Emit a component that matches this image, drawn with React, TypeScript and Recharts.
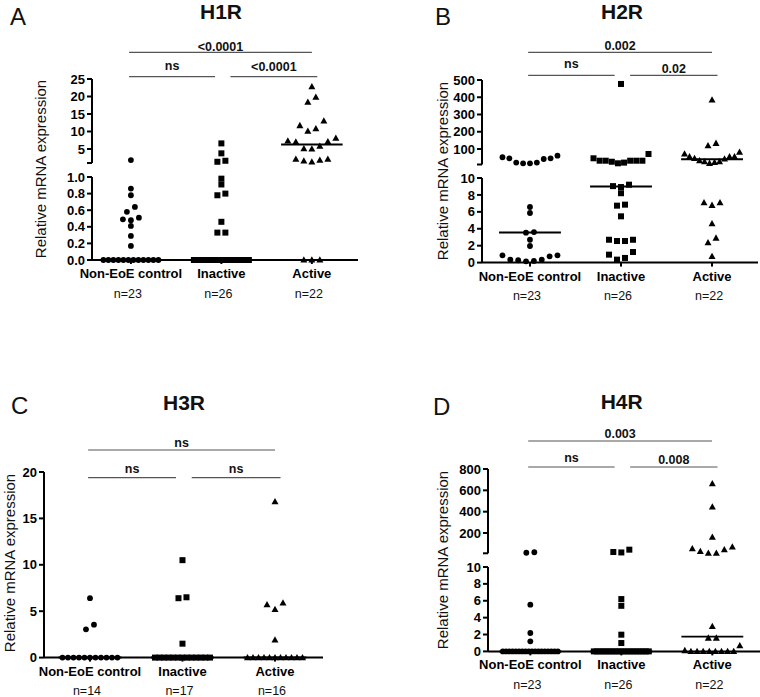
import React from "react";
import { ScatterChart, Scatter, XAxis, YAxis, ReferenceLine } from "recharts";

const FONT = "'Liberation Sans', Arial, Helvetica, sans-serif";

const groups = ["Non-EoE control", "Inactive", "Active"];

// A - H1R
const h1rNonEoE = [1.84, 0.86, 0.78, 0.64, 0.58, 0.51, 0.49, 0.48, 0.41, 0.29, 0.17, 0, 0, 0, 0, 0, 0, 0, 0, 0, 0, 0, 0];
const h1rInactive = [6.6, 3.76, 1.64, 1.35, 0.98, 0.91, 0.8, 0.78, 0.46, 0.33, 0.33, 0, 0, 0, 0, 0, 0, 0, 0, 0, 0, 0, 0, 0, 0, 0];
const h1rActive = [22.8, 19.8, 18.4, 13.0, 11.7, 10.8, 10.1, 8.1, 7.3, 7.1, 7.0, 5.8, 5.1, 5.0, 2.1, 2.1, 1.8, 1.6, 1.3, 0, 0, 0];
const h1rN = ["n=23", "n=26", "n=22"];
const h1rMedian = [0, 0, 6.3];
const h1rP = ["<0.0001", "ns", "<0.0001"];

// B - H2R
const h2rNonEoE = [61, 52, 46, 46, 42, 21, 21, 17, 17, 6.57, 5.86, 3.61, 3.54, 2.7, 1.96, 0.86, 0.86, 0.74, 0.35, 0.35, 0.28, 0.2, 0.15];
const h2rInactive = [477, 71, 46, 32, 32, 32, 32, 32, 26, 21, 17, 9.21, 9.04, 8.93, 8.2, 6.85, 6.73, 5.47, 2.7, 2.7, 2.55, 2.55, 1.25, 0.94, 0.55, 0.35];
const h2rActive = [384, 133, 119, 81, 71, 55, 55, 55, 45, 42, 32, 26, 26, 22, 17, 7.08, 7.08, 6.77, 4.6, 2.9, 2.36, 0.74];
const h2rN = ["n=23", "n=26", "n=22"];
const h2rMedian = [3.55, 9.0, 40];
const h2rP = ["0.002", "ns", "0.02"];

// C - H3R
const h3rNonEoE = [6.4, 3.55, 3.05, 0, 0, 0, 0, 0, 0, 0, 0, 0, 0, 0];
const h3rInactive = [10.5, 6.5, 6.4, 1.5, 0, 0, 0, 0, 0, 0, 0, 0, 0, 0, 0, 0, 0];
const h3rActive = [16.8, 5.9, 5.7, 5.2, 1.9, 0, 0, 0, 0, 0, 0, 0, 0, 0, 0, 0];
const h3rN = ["n=14", "n=17", "n=16"];
const h3rMedian = [0, 0, 0];
const h3rP = ["ns", "ns", "ns"];

// D - H4R
const h4rNonEoE = [20, 15, 5.53, 2.18, 1.19, 0, 0, 0, 0, 0, 0, 0, 0, 0, 0, 0, 0, 0, 0, 0, 0, 0, 0];
const h4rInactive = [44, 22, 18, 6.2, 5.4, 1.98, 0.99, 0, 0, 0, 0, 0, 0, 0, 0, 0, 0, 0, 0, 0, 0, 0, 0, 0, 0, 0];
const h4rActive = [662, 444, 162, 69, 53, 44, 28, 12, 12, 2.96, 1.58, 1.58, 0.67, 0.1, 0, 0, 0, 0, 0, 0, 0, 0];
const h4rN = ["n=23", "n=26", "n=22"];
const h4rMedian = [0, 0, 1.75];
const h4rP = ["0.003", "ns", "0.008"];

// comparison brackets: [from group, to group, level]
const brackets: [number, number, number][] = [
  [-0.02, 2.0, 0],
  [-0.02, 0.93, 1],
  [1.1, 2.06, 1],
];

type Seg = { min: number; max: number; ticks: number[]; top: number; bottom: number; digits: number };

type Panel = {
  letter: string;
  title: string;
  letterPos: [number, number];
  titlePos: [number, number];
  yLabelPos: [number, number];
  axisX: number;
  right: number;
  xDomain: [number, number];
  segs: Seg[];
  series: number[][];
  counts: string[];
  medians: number[];
  pvalues: string[];
  bracketY: [number, number];
  textY: number[];
};

const panels: Panel[] = [
  {
    letter: "A", title: "H1R", letterPos: [10, 25], titlePos: [221, 18.5], yLabelPos: [40, 169],
    axisX: 92, right: 358, xDomain: [-0.43, 2.51],
    segs: [
      { min: 1, max: 25, ticks: [1, 5, 10, 15, 20, 25], top: 79, bottom: 163, digits: 0 },
      { min: 0, max: 1, ticks: [0, 0.2, 0.4, 0.6, 0.8, 1], top: 177, bottom: 260, digits: 1 },
    ],
    series: [h1rNonEoE, h1rInactive, h1rActive], counts: h1rN, medians: h1rMedian, pvalues: h1rP,
    bracketY: [52.3, 76.7], textY: [51, 70, 70.5],
  },
  {
    letter: "B", title: "H2R", letterPos: [435, 25], titlePos: [622, 19.3], yLabelPos: [442, 171],
    axisX: 482, right: 758, xDomain: [-0.527, 2.505],
    segs: [
      { min: 10, max: 500, ticks: [10, 100, 200, 300, 400, 500], top: 80, bottom: 164.5, digits: 0 },
      { min: 0, max: 10, ticks: [0, 2, 4, 6, 8, 10], top: 177.7, bottom: 262.3, digits: 0 },
    ],
    series: [h2rNonEoE, h2rInactive, h2rActive], counts: h2rN, medians: h2rMedian, pvalues: h2rP,
    bracketY: [52.3, 75.3], textY: [50, 68.3, 72.7],
  },
  {
    letter: "C", title: "H3R", letterPos: [11, 414], titlePos: [184, 410], yLabelPos: [9, 563],
    axisX: 44, right: 323, xDomain: [-0.497, 2.519],
    segs: [{ min: 0, max: 20, ticks: [0, 5, 10, 15, 20], top: 471.7, bottom: 657.3, digits: 0 }],
    series: [h3rNonEoE, h3rInactive, h3rActive], counts: h3rN, medians: h3rMedian, pvalues: h3rP,
    bracketY: [450, 477.7], textY: [446.7, 472.7, 472.7],
  },
  {
    letter: "D", title: "H4R", letterPos: [433, 415], titlePos: [621.7, 409.3], yLabelPos: [442, 560],
    axisX: 487.7, right: 760, xDomain: [-0.465, 2.527],
    segs: [
      { min: 10, max: 800, ticks: [10, 200, 400, 600, 800], top: 469.3, bottom: 553.6, digits: 0 },
      { min: 0, max: 10, ticks: [0, 2, 4, 6, 8, 10], top: 567.3, bottom: 651.7, digits: 0 },
    ],
    series: [h4rNonEoE, h4rInactive, h4rActive], counts: h4rN, medians: h4rMedian, pvalues: h4rP,
    bracketY: [441, 467], textY: [438.3, 461.7, 464.3],
  },
];

const dot = (p: any) => <circle cx={p.cx} cy={p.cy} r={2.9} fill="#000" />;
const square = (p: any) => <rect x={p.cx - 3} y={p.cy - 3} width={6} height={6} fill="#000" />;
const tri = (p: any) => (
  <polygon points={`${p.cx},${p.cy - 3.7} ${p.cx + 3.5},${p.cy + 2.6} ${p.cx - 3.5},${p.cy + 2.6}`} fill="#000" />
);
const shapes = [dot, square, tri];

// Prism-like scatter: points closer than ~5px vertically share a row, centred,
// lowest values in the middle of the row.
function swarm(values: number[], seg: Seg, pxPerCat: number, group: number) {
  const toPx = (v: number) => seg.top + ((seg.max - v) / (seg.max - seg.min)) * (seg.bottom - seg.top);
  const sorted = values.map((v) => ({ v, p: toPx(v) })).sort((a, b) => a.p - b.p);
  const rows: { v: number; p: number }[][] = [];
  for (const d of sorted) {
    const last = rows[rows.length - 1];
    if (last && d.p - last[last.length - 1].p < 5) last.push(d);
    else rows.push([d]);
  }
  const out: { x: number; y: number }[] = [];
  for (const r of rows) {
    const k = r.length;
    const gap = k > 1 ? Math.min(8, 55 / (k - 1)) : 0;
    const slots = Array.from({ length: k }, (_, i) => (i - (k - 1) / 2) * gap).sort(
      (a, b) => Math.abs(a) - Math.abs(b) || a - b
    );
    const asc = [...r].sort((a, b) => a.v - b.v);
    asc.forEach((d, i) => out.push({ x: group + slots[i] / pxPerCat, y: d.v }));
  }
  return out;
}

function CatTick(props: any) {
  const { x, y, payload, counts } = props;
  const i = payload.value as number;
  return (
    <g>
      <text x={x} y={y + 12} textAnchor="middle" fontFamily={FONT} fontSize={13} fontWeight={700} fill="#000">
        {groups[i]}
      </text>
      <text x={x - 3} y={y + 31.5} textAnchor="middle" fontFamily={FONT} fontSize={12.5} fill="#111">
        {counts[i]}
      </text>
    </g>
  );
}

function SegmentChart({ panel, segIndex }: { panel: Panel; segIndex: number }) {
  const seg = panel.segs[segIndex];
  const isBottom = segIndex === panel.segs.length - 1;
  const split = panel.segs.length > 1 ? panel.segs[1].max : -Infinity;
  const inSeg = (v: number) => (segIndex === 0 && panel.segs.length > 1 ? v > split : v <= seg.max);

  const yw = 60;
  const padT = 10;
  const padB = 10;
  const xh = 46;
  const mr = 6;
  const left = panel.axisX - yw;
  const width = panel.right - left + mr;
  const height = padT + (seg.bottom - seg.top) + (isBottom ? xh : 0) + padB;
  const [d0, d1] = panel.xDomain;
  const pxPerCat = (panel.right - panel.axisX) / (d1 - d0);

  const axisStyle = { stroke: "#000", strokeWidth: 2 };
  const fmt = (v: number) => (v === seg.min && segIndex === 0 && panel.segs.length > 1 ? "" : v.toFixed(seg.digits));

  return (
    <div style={{ position: "absolute", left, top: seg.top - padT }}>
      <ScatterChart width={width} height={height} margin={{ top: padT, right: mr, bottom: padB, left: 0 }}>
        <XAxis
          type="number"
          dataKey="x"
          domain={panel.xDomain}
          ticks={[0, 1, 2]}
          interval={0}
          hide={!isBottom}
          height={xh}
          tickSize={4}
          tickMargin={2}
          axisLine={axisStyle}
          tickLine={axisStyle}
          tick={(p: any) => <CatTick {...p} counts={panel.counts} />}
        />
        <YAxis
          type="number"
          dataKey="y"
          domain={[seg.min, seg.max]}
          ticks={seg.ticks}
          interval={0}
          width={yw}
          tickSize={5}
          tickMargin={2}
          axisLine={axisStyle}
          tickLine={axisStyle}
          tick={{ fill: "#000", fontSize: 13, fontWeight: 700, fontFamily: FONT }}
          tickFormatter={fmt}
        />
        {panel.medians.map((m, i) =>
          inSeg(m) ? (
            <ReferenceLine
              key={"m" + i}
              segment={[
                { x: i - 0.34, y: m },
                { x: i + 0.34, y: m },
              ]}
              stroke="#000"
              strokeWidth={2}
            />
          ) : null
        )}
        {panel.series.map((vals, g) => (
          <Scatter
            key={g}
            data={swarm(vals.filter(inSeg), seg, pxPerCat, g)}
            shape={shapes[g]}
            fill="#000"
            isAnimationActive={false}
          />
        ))}
      </ScatterChart>
    </div>
  );
}

function Annotations({ panel }: { panel: Panel }) {
  const [d0, d1] = panel.xDomain;
  const pxPerCat = (panel.right - panel.axisX) / (d1 - d0);
  const cx = (c: number) => panel.axisX + (c - d0) * pxPerCat;
  return (
    <g>
      <text x={panel.letterPos[0]} y={panel.letterPos[1]} fontFamily={FONT} fontSize={24} fill="#111">
        {panel.letter}
      </text>
      <text x={panel.titlePos[0]} y={panel.titlePos[1]} textAnchor="middle" fontFamily={FONT} fontSize={21} fontWeight={700} fill="#111">
        {panel.title}
      </text>
      <text
        transform={`translate(${panel.yLabelPos[0]},${panel.yLabelPos[1]}) rotate(-90)`}
        textAnchor="middle"
        dominantBaseline="central"
        fontFamily={FONT}
        fontSize={15}
        fill="#111"
      >
        Relative mRNA expression
      </text>
      {brackets.map(([a, b, level], i) => (
        <g key={i}>
          <line x1={cx(a)} x2={cx(b)} y1={panel.bracketY[level]} y2={panel.bracketY[level]} stroke="#555" strokeWidth={1.2} />
          <text x={(cx(a) + cx(b)) / 2} y={panel.textY[i]} textAnchor="middle" fontFamily={FONT} fontSize={12.5} fontWeight={700} fill="#111">
            {panel.pvalues[i]}
          </text>
        </g>
      ))}
    </g>
  );
}

export default function App() {
  return (
    <div style={{ position: "relative", width: 760, height: 697, overflow: "hidden", background: "#fff" }}>
      <style>{"body{margin:0}"}</style>
      <svg width={760} height={697} style={{ position: "absolute", left: 0, top: 0 }}>
        {panels.map((p) => (
          <Annotations key={p.letter} panel={p} />
        ))}
      </svg>
      {panels.map((p) =>
        p.segs.map((_, si) => <SegmentChart key={p.letter + si} panel={p} segIndex={si} />)
      )}
    </div>
  );
}
